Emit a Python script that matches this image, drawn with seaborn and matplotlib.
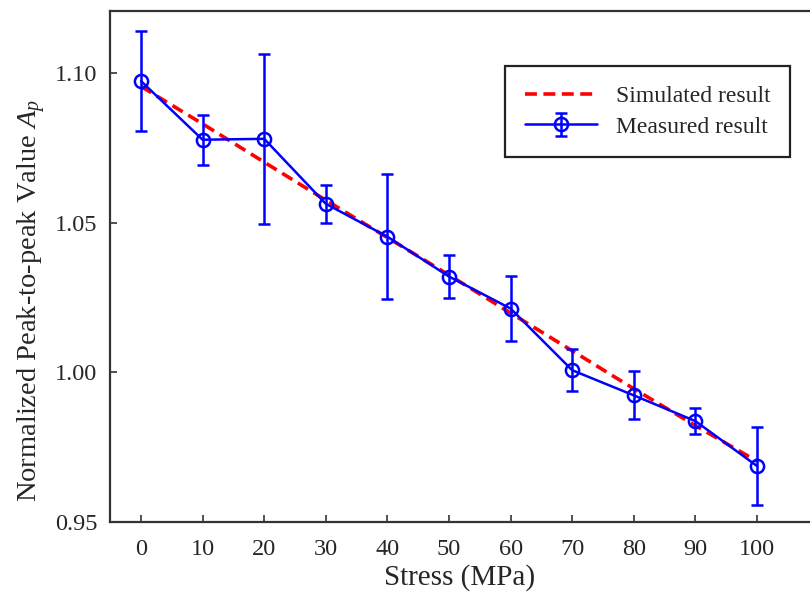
import matplotlib
matplotlib.use("Agg")
import matplotlib.pyplot as plt
import seaborn as sns
import pandas as pd

# values
stress = [0, 10, 20, 30, 40, 50, 60, 70, 80, 90, 100]
measured = [1.0973, 1.0777, 1.0780, 1.0563, 1.0453, 1.0320, 1.0213, 1.0007, 0.9923, 0.9837, 0.9687]
measured_err = [0.0167, 0.0083, 0.0283, 0.0063, 0.0208, 0.0073, 0.0110, 0.0070, 0.0080, 0.0043, 0.0130]
simulated = [1.0955, 1.0830, 1.0702, 1.0575, 1.0450, 1.0325, 1.0198, 1.0072, 0.9945, 0.9822, 0.9703]
x_ticks = [0, 10, 20, 30, 40, 50, 60, 70, 80, 90, 100]
y_ticks = [0.95, 1.00, 1.05, 1.10]

sns.set_style("white")
plt.rcParams["font.family"] = ["Liberation Serif", "DejaVu Serif"]
plt.rcParams["mathtext.fontset"] = "custom"
plt.rcParams["mathtext.rm"] = "Liberation Serif"
plt.rcParams["mathtext.it"] = "Liberation Serif:italic"

df = pd.DataFrame({"stress": stress, "simulated": simulated})

fig = plt.figure(figsize=(8.1, 5.92), dpi=100)
ax = fig.add_axes([110 / 810, 70 / 592, 700 / 810, 511 / 592])

sns.lineplot(data=df, x="stress", y="simulated", ax=ax, color="#ff0000",
             linestyle=(0, (3.3, 1.8)), linewidth=2.6, label="Simulated result")
ax.errorbar(stress, measured, yerr=measured_err, color="#0000ff", linewidth=1.8,
            marker="o", markersize=9.5, markerfacecolor="none", markeredgewidth=1.8,
            elinewidth=1.8, capsize=4.5, capthick=1.8, label="Measured result")

ax.set_xlim(-5.03, 108.6)
ax.set_ylim(0.95, 1.1207)
ax.set_xticks(x_ticks)
ax.set_yticks(y_ticks)
ax.set_yticklabels([f"{v:.2f}" for v in y_ticks])
ax.tick_params(bottom=True, left=True, top=False, right=False, direction="in",
               length=5, width=1.2, labelsize=17.5, color="#333333",
               labelcolor="#262626")
ax.tick_params(axis="x", pad=12)
ax.tick_params(axis="y", pad=9)
ax.set_xlabel("Stress (MPa)", fontsize=21, color="#262626", labelpad=3)
ax.set_ylabel("Normalized Peak-to-peak Value $A_p$", fontsize=20.5, color="#262626")
ax.yaxis.set_label_coords(-0.089, 0.434)

for side in ["left", "bottom", "top"]:
    ax.spines[side].set_color("#333333")
    ax.spines[side].set_linewidth(1.6)
ax.spines["right"].set_visible(False)

leg = ax.legend(loc="upper right", bbox_to_anchor=(0.971, 0.892), borderaxespad=0,
                fontsize=17, frameon=True, fancybox=False, edgecolor="#222222",
                framealpha=1, handlelength=3.05, handletextpad=0.8,
                borderpad=0.82, labelspacing=0.38)
leg.get_frame().set_linewidth(1.6)
for t in leg.get_texts():
    t.set_color("#262626")

fig.savefig("out.png", dpi=100)
